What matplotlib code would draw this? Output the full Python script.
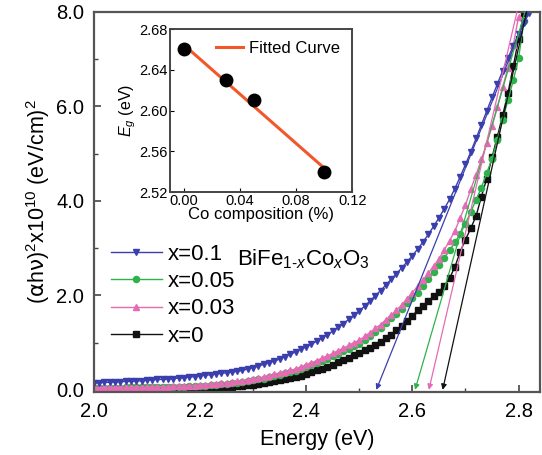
import numpy as np
import matplotlib.pyplot as plt

plt.rcParams["font.family"] = ["Liberation Sans", "DejaVu Sans"]
plt.rcParams["mathtext.fontset"] = "custom"
plt.rcParams["mathtext.rm"] = "Liberation Sans"
plt.rcParams["mathtext.it"] = "Liberation Sans:italic"
plt.rcParams["mathtext.bf"] = "Liberation Sans:bold"
plt.rcParams["mathtext.sf"] = "DejaVu Sans"

# photon energy grid (eV)
energy = np.round(np.arange(2.00, 2.825, 0.01), 2)

# (alpha h nu)^2 x 1e10
y_x010 = [0.15, 0.15, 0.16, 0.16, 0.17, 0.17, 0.18, 0.18, 0.19, 0.19,
          0.20, 0.21, 0.22, 0.22, 0.23, 0.24, 0.25, 0.26, 0.27, 0.28,
          0.29, 0.31, 0.32, 0.33, 0.35, 0.36, 0.38, 0.39, 0.41, 0.44,
          0.47, 0.50, 0.54, 0.57, 0.61, 0.65, 0.70, 0.75, 0.80, 0.86,
          0.91, 0.97, 1.03, 1.10, 1.17, 1.24, 1.32, 1.40, 1.49, 1.58,
          1.67, 1.77, 1.88, 1.99, 2.10, 2.22, 2.34, 2.46, 2.58, 2.71,
          2.84, 2.98, 3.13, 3.29, 3.46, 3.64, 3.83, 4.03, 4.26, 4.51,
          4.77, 5.04, 5.32, 5.61, 5.90, 6.19, 6.47, 6.75, 7.02, 7.28,
          7.53, 7.76, 7.98]
y_x005 = [0.04, 0.04, 0.04, 0.04, 0.04, 0.04, 0.05, 0.05, 0.05, 0.05,
          0.05, 0.06, 0.06, 0.06, 0.06, 0.07, 0.07, 0.07, 0.08, 0.08,
          0.08, 0.09, 0.10, 0.11, 0.12, 0.13, 0.14, 0.15, 0.16, 0.18,
          0.20, 0.22, 0.24, 0.27, 0.29, 0.32, 0.35, 0.37, 0.40, 0.44,
          0.48, 0.52, 0.57, 0.61, 0.66, 0.71, 0.76, 0.82, 0.87, 0.93,
          0.98, 1.06, 1.14, 1.22, 1.31, 1.41, 1.51, 1.61, 1.72, 1.83,
          1.94, 2.05, 2.19, 2.34, 2.49, 2.64, 2.79, 2.95, 3.12, 3.30,
          3.52, 3.77, 4.02, 4.28, 4.59, 4.89, 5.29, 5.72, 6.13, 6.55,
          7.02, 7.80]
y_x003 = [0.05, 0.05, 0.05, 0.05, 0.05, 0.05, 0.06, 0.06, 0.06, 0.06,
          0.06, 0.07, 0.07, 0.07, 0.07, 0.08, 0.08, 0.08, 0.09, 0.09,
          0.10, 0.11, 0.12, 0.13, 0.14, 0.15, 0.16, 0.18, 0.19, 0.21,
          0.23, 0.25, 0.27, 0.30, 0.33, 0.36, 0.38, 0.41, 0.44, 0.48,
          0.52, 0.57, 0.62, 0.67, 0.72, 0.77, 0.83, 0.88, 0.94, 1.00,
          1.05, 1.13, 1.21, 1.30, 1.38, 1.48, 1.58, 1.68, 1.80, 1.93,
          2.06, 2.19, 2.33, 2.47, 2.62, 2.77, 2.96, 3.16, 3.36, 3.64,
          3.91, 4.25, 4.55, 4.88, 5.22, 5.58, 5.98, 6.40, 6.82, 7.30,
          7.90]
y_x000 = [0.02, 0.02, 0.02, 0.02, 0.02, 0.02, 0.02, 0.03, 0.03, 0.03,
          0.03, 0.03, 0.03, 0.03, 0.03, 0.03, 0.04, 0.04, 0.04, 0.04,
          0.04, 0.05, 0.05, 0.06, 0.06, 0.07, 0.07, 0.08, 0.09, 0.10,
          0.11, 0.13, 0.14, 0.16, 0.18, 0.20, 0.22, 0.25, 0.27, 0.30,
          0.34, 0.37, 0.41, 0.44, 0.48, 0.53, 0.58, 0.63, 0.68, 0.73,
          0.78, 0.84, 0.89, 0.95, 1.01, 1.09, 1.17, 1.26, 1.35, 1.46,
          1.57, 1.68, 1.78, 1.88, 1.98, 2.08, 2.20, 2.36, 2.60, 2.92,
          3.18, 3.42, 3.68, 4.09, 4.47, 4.92, 5.36, 5.81, 6.28, 6.85,
          7.42, 7.98]

# linear extrapolation lines: x-intercept (Eg) and where they leave the top
tan_x0 = [2.532, 2.605, 2.631, 2.657]
tan_x1 = [2.818, 2.812, 2.797, 2.815]
tan_y1 = [8.0, 8.0, 8.0, 8.0]

# inset data
co_x = [0.00, 0.03, 0.05, 0.10]
eg = [2.66, 2.63, 2.61, 2.54]

labels = ["x=0.1", "x=0.05", "x=0.03", "x=0"]
colors = ["#3b3fae", "#2fb24c", "#e46bb4", "#111111"]
markers = ["v", "o", "^", "s"]
series = [y_x010, y_x005, y_x003, y_x000]

fig = plt.figure(figsize=(5.42, 4.55), dpi=100)
ax = fig.add_axes([0.173, 0.138, 0.823, 0.836])

handles = [None] * 4
for i in [3, 1, 2, 0]:
    y = series[i]
    h, = ax.plot(energy[:len(y)], y, color=colors[i], marker=markers[i],
                 ms=4.4, lw=1.0, mec=colors[i], label=labels[i])
    handles[i] = h

for i in range(4):
    ax.annotate("", xy=(tan_x0[i], 0.0), xytext=(tan_x1[i], tan_y1[i]),
                arrowprops=dict(arrowstyle="-|>", color=colors[i], lw=0.9,
                                mutation_scale=8, shrinkA=0, shrinkB=0),
                annotation_clip=False)

ax.set_xlim(2.0, 2.84)
ax.set_ylim(-0.05, 8.0)
ax.set_xticks([2.0, 2.2, 2.4, 2.6, 2.8])
ax.set_xticks([2.1, 2.3, 2.5, 2.7], minor=True)
ax.set_yticks([0, 2, 4, 6, 8])
ax.set_yticks([1, 3, 5, 7], minor=True)
ax.set_yticklabels(["0.0", "2.0", "4.0", "6.0", "8.0"])
ax.tick_params(which="both", direction="in", labelsize=14.5, pad=7,
               color="#444444")
ax.tick_params(which="major", length=5, width=1.2)
ax.tick_params(which="minor", length=3, width=1.0)
for s in ax.spines.values():
    s.set_linewidth(1.6)
    s.set_color("#555555")

ax.set_xlabel("Energy (eV)", fontsize=15.5, labelpad=6)
ax.set_ylabel(r"($\mathsf{\alpha}$h$\mathsf{\nu}$)$^2$x10$^{10}$ (eV/cm)$^2$",
              fontsize=15.5, labelpad=3)

leg = ax.legend(handles=handles, labels=labels, loc="upper left",
                bbox_to_anchor=(0.018, 0.413), frameon=False, fontsize=16,
                handlelength=2.3, handletextpad=0.25, labelspacing=0.28,
                numpoints=1, borderaxespad=0)
ax.text(0.32, 0.334, "BiFe$_{1\\text{-}x}$Co$_x$O$_3$", transform=ax.transAxes,
        fontsize=16, va="baseline", ha="left")

# inset: band gap vs Co content
axi = fig.add_axes([0.3137, 0.578, 0.336, 0.358])
coef = np.polyfit(co_x, eg, 1)
fit_x = np.array([min(co_x), max(co_x)])
axi.plot(fit_x, np.polyval(coef, fit_x), color="#f2572a", lw=2.2,
         label="Fitted Curve", zorder=2)
axi.plot(co_x, eg, "o", color="black", ms=9, zorder=3)
axi.set_xlim(-0.01, 0.12)
axi.set_ylim(2.52, 2.68)
axi.set_xticks([0.00, 0.04, 0.08, 0.12])
axi.set_yticks([2.52, 2.56, 2.60, 2.64, 2.68])
axi.set_xticklabels(["0.00", "0.04", "0.08", "0.12"])
axi.set_yticklabels(["2.52", "2.56", "2.60", "2.64", "2.68"])
axi.tick_params(direction="in", labelsize=10.5, pad=1.5, length=3)
for s in axi.spines.values():
    s.set_linewidth(1.4)
    s.set_color("#444444")
axi.set_xlabel("Co composition (%)", fontsize=12, labelpad=-1)
axi.set_ylabel("$E_g$ (eV)", fontsize=11.5, labelpad=1)
axi.legend(loc="upper right", frameon=False, fontsize=12, handlelength=1.6,
           handletextpad=0.4, borderaxespad=0.3)

fig.savefig("out.png", dpi=100)
